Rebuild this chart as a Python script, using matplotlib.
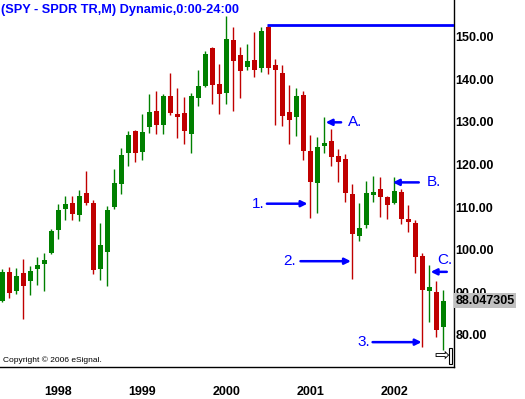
import numpy as np
import pandas as pd
import matplotlib
matplotlib.use('Agg')
import matplotlib.pyplot as plt
from matplotlib.patches import Rectangle

plt.rcParams['font.family'] = ['Liberation Sans', 'DejaVu Sans']

# Monthly SPY candles, Jul 1997 - Oct 2002
opens = [87.96, 94.77, 90.31, 94.53, 92.66, 95.47, 96.64, 99.22, 104.62, 109.56,
         110.97, 108.15, 113.31, 110.97, 95.47, 99.46, 110.03, 115.42, 122.70, 127.86,
         122.93, 128.80, 132.56, 129.27, 136.08, 131.85, 132.09, 127.16, 135.61, 138.43,
         147.35, 138.90, 136.78, 149.23, 145.70, 142.89, 144.53, 142.65, 152.28, 143.36,
         141.48, 132.32, 131.15, 136.31, 123.17, 115.66, 124.34, 125.52, 122.00, 121.29,
         113.08, 103.22, 105.80, 112.85, 114.25, 112.38, 110.97, 113.55, 107.21, 106.27,
         98.52, 90.31, 90.07, 81.85]
highs = [95.47, 95.94, 95.70, 97.81, 96.17, 98.28, 99.22, 104.86, 110.74, 112.61,
         112.61, 114.01, 118.47, 111.67, 106.27, 110.27, 118.94, 123.87, 127.86, 128.10,
         131.85, 136.55, 137.25, 136.55, 141.48, 137.96, 135.85, 136.78, 142.18, 146.64,
         147.58, 143.59, 154.86, 152.28, 147.58, 148.29, 151.10, 152.28, 152.82, 144.77,
         143.36, 138.66, 137.96, 137.25, 126.92, 126.46, 131.15, 128.33, 123.64, 122.46,
         115.42, 110.97, 116.13, 117.30, 117.07, 112.61, 117.07, 114.25, 110.50, 106.97,
         99.22, 96.41, 92.66, 90.54]
lows = [87.72, 88.66, 89.60, 83.73, 89.37, 91.72, 90.31, 98.99, 102.51, 106.97,
        106.97, 106.74, 110.50, 94.30, 92.89, 91.48, 109.56, 113.08, 119.65, 120.59,
        121.06, 127.39, 127.16, 127.16, 131.62, 126.22, 124.81, 122.70, 133.73, 138.19,
        134.20, 131.85, 134.20, 132.56, 135.61, 142.18, 140.54, 141.71, 141.24, 129.27,
        129.04, 124.81, 126.69, 121.06, 107.44, 108.62, 122.70, 119.65, 115.89, 111.20,
        93.12, 102.04, 105.10, 111.20, 107.68, 107.21, 110.74, 106.04, 104.16, 94.53,
        77.16, 83.03, 79.51, 76.46]
closes = [94.77, 89.84, 93.83, 91.48, 95.00, 96.41, 97.58, 104.39, 109.33, 110.74,
          108.38, 112.61, 110.97, 95.23, 101.10, 109.33, 115.66, 122.23, 126.92, 122.70,
          127.63, 132.32, 129.27, 136.08, 132.09, 131.15, 127.86, 136.08, 138.43, 145.94,
          138.66, 136.55, 149.46, 144.30, 141.95, 144.30, 142.18, 151.34, 142.65, 142.18,
          131.38, 130.45, 136.08, 123.17, 115.89, 124.11, 125.05, 121.76, 120.59, 113.31,
          103.69, 105.10, 113.31, 113.55, 112.38, 110.50, 113.78, 107.21, 106.50, 98.28,
          90.54, 91.25, 81.15, 88.05]
last_price = '88.047305'

months = pd.period_range('1997-07', periods=len(opens), freq='M')
year_labels = ['1998', '1999', '2000', '2001', '2002']
price_ticks = [80, 90, 100, 110, 120, 130, 140, 150]
resistance = 152.82

# annotations: label, label position, arrow tail, arrow head (month index, price)
notes = [
    ('A.', (49.4, 129.9), (48.4, 129.9), (46.2, 129.9)),
    ('B.', (60.7, 115.8), (59.5, 115.8), (55.8, 115.8)),
    ('1.', (35.6, 110.8), (37.8, 110.8), (43.6, 110.8)),
    ('2.', (40.1, 97.3), (42.6, 97.3), (49.8, 97.3)),
    ('3.', (50.7, 78.3), (52.9, 78.3), (59.9, 78.3)),
    ('C.', (62.2, 97.6), (63.5, 94.8), (61.2, 94.8)),
]

GREEN = '#008000'
RED = '#C00000'
BLUE = '#0000FF'


def plot_chart():
    fig = plt.figure(figsize=(5.25, 3.99), dpi=100)
    ax = fig.add_axes([0, 32 / 399, 454 / 525, 367 / 399])

    x = np.arange(len(opens))
    o = np.array(opens)
    c = np.array(closes)
    colors = [GREEN if cc >= oo else RED for oo, cc in zip(o, c)]

    # wicks and bodies
    ax.vlines(x, lows, highs, colors=colors, linewidth=1.0, zorder=2)
    ax.bar(x, np.maximum(np.abs(c - o), 0.25), bottom=np.minimum(o, c),
           width=0.72, color=colors, linewidth=0, zorder=3)

    ax.set_xlim(-0.33, 64.53)
    ax.set_ylim(72.465, 158.615)

    # resistance line from the Sep 2000 high
    ax.hlines(resistance, 37.75, 64.53, colors=BLUE, linewidth=2.0, zorder=4)

    for label, tpos, tail, head in notes:
        ax.annotate('', xy=head, xytext=tail,
                    arrowprops=dict(arrowstyle='-|>', color=BLUE, lw=1.8,
                                    mutation_scale=9, shrinkA=0, shrinkB=0))
        ax.text(tpos[0], tpos[1], label, color=BLUE, fontsize=11,
                ha='left', va='center')

    # axes frame: only bottom and right lines
    for side in ['top', 'left']:
        ax.spines[side].set_visible(False)
    for side in ['bottom', 'right']:
        ax.spines[side].set_linewidth(1.0)

    ax.yaxis.tick_right()
    ax.set_yticks(price_ticks)
    ax.set_yticklabels([f'{p:.2f}' for p in price_ticks])
    ax.tick_params(axis='y', length=0, pad=1, labelsize=9)
    for t in ax.get_yticklabels():
        t.set_fontweight('bold')

    jan_idx = [i for i, m in enumerate(months) if m.month == 1]
    ax.set_xticks(jan_idx)
    ax.set_xticklabels(year_labels, ha='left')
    ax.tick_params(axis='x', length=0, pad=14, labelsize=9)
    for t in ax.get_xticklabels():
        t.set_fontweight('bold')

    # current price marker
    ax.text(1.003, closes[-1], last_price, transform=ax.get_yaxis_transform(),
            fontsize=9, fontweight='bold', ha='left', va='center', zorder=10,
            clip_on=False,
            bbox=dict(boxstyle='square,pad=0.12', fc='#C0C0C0', ec='none'))

    ax.text(1 / 454, 1 - 4 / 367, '(SPY - SPDR TR,M) Dynamic,0:00-24:00',
            transform=ax.transAxes, color=BLUE, fontsize=9.2, fontweight='bold',
            ha='left', va='top')
    ax.text(3 / 454, 7 / 367, 'Copyright \u00a9 2006 eSignal.',
            transform=ax.transAxes, fontsize=6, ha='left', va='center')

    # little scroll icon in the corner
    ax.text(442 / 454, 11 / 367, '\u21e8', transform=ax.transAxes,
            fontsize=13, family='DejaVu Sans', ha='center', va='center')
    ax.add_patch(Rectangle((448.5 / 454, 3 / 367), 3 / 454, 16 / 367,
                           transform=ax.transAxes, fill=False, ec='black',
                           lw=0.8, clip_on=False))

    plt.savefig('out.png', dpi=100)
    plt.close()


if __name__ == '__main__':
    plot_chart()
